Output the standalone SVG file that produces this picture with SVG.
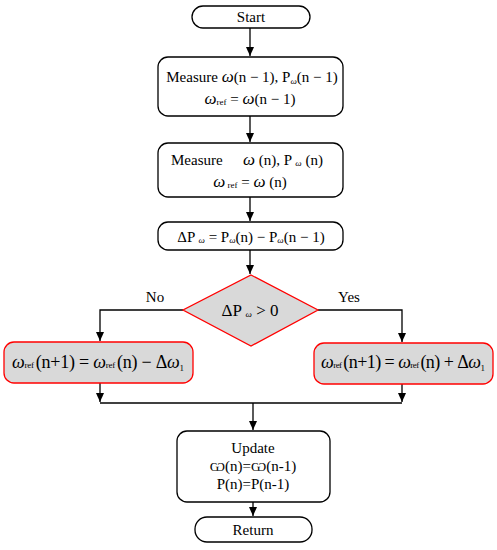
<svg xmlns="http://www.w3.org/2000/svg" width="497" height="550" viewBox="0 0 497 550">
<defs>
<marker id="ah" markerWidth="10" markerHeight="10" refX="9" refY="5" orient="auto" markerUnits="userSpaceOnUse">
<path d="M0,1 L9,5 L0,9 Z" fill="#000"/>
</marker>
<style>
.box{fill:#fff;stroke:#000;stroke-width:1.3}
.dec{fill:#d9d9d9;stroke:#ff0000;stroke-width:1.3}
.ln{fill:none;stroke:#000;stroke-width:1.3}
text{font-family:"Liberation Serif","Times New Roman",serif;fill:#000}
.t{font-size:15px}
.i{font-style:italic}
.s{font-size:9px}
.om{font-family:"DejaVu Serif","Liberation Serif",serif;font-size:13px}
</style>
</defs>
<rect width="497" height="550" fill="#fff"/>
<g id="connectors">
<path class="ln" d="M250,28 V56" marker-end="url(#ah)"/>
<path class="ln" d="M250,116 V142" marker-end="url(#ah)"/>
<path class="ln" d="M250,197 V221" marker-end="url(#ah)"/>
<path class="ln" d="M250,250 V274" marker-end="url(#ah)"/>
<path class="ln" d="M183,310 H100 V341" marker-end="url(#ah)"/>
<path class="ln" d="M318,310 H402 V342" marker-end="url(#ah)"/>
<path class="ln" d="M100,383 V402" marker-end="url(#ah)"/>
<path class="ln" d="M402,384 V402" marker-end="url(#ah)"/>
<path class="ln" d="M100,403 H402"/>
<path class="ln" d="M253,403 V430" marker-end="url(#ah)"/>
<path class="ln" d="M253,502 V516" marker-end="url(#ah)"/>
<text class="t" x="155" y="302" text-anchor="middle">No</text>
<text class="t" x="349" y="302" text-anchor="middle">Yes</text>
</g>
<g id="start">
<rect class="box" x="192" y="6" width="118" height="22" rx="11"/>
<text class="t" x="251" y="22" text-anchor="middle">Start</text>
</g>
<g id="measure1">
<rect class="box" x="158" y="57" width="185" height="59" rx="10"/>
<text class="t" x="252" y="82" text-anchor="middle">Measure <tspan class="i" font-size="17">ω</tspan>(n − 1), P<tspan class="i s" dy="2">ω</tspan><tspan dy="-2">(n − 1)</tspan></text>
<text class="t" x="250" y="104" text-anchor="middle"><tspan class="i" font-size="17">ω</tspan><tspan class="s" dy="1">ref</tspan><tspan dy="-1"> = </tspan><tspan class="i" font-size="17">ω</tspan>(n − 1)</text>
</g>
<g id="measure2">
<rect class="box" x="158" y="143" width="185" height="54" rx="10"/>
<text class="t" x="171" y="165">Measure</text>
<text class="t" x="243" y="165"><tspan class="i" font-size="17">ω</tspan> (n),   P <tspan class="i s" dy="1">ω</tspan><tspan dy="-1"> (n)</tspan></text>
<text class="t" x="250" y="187" text-anchor="middle"><tspan class="i" font-size="17">ω</tspan><tspan class="s" dy="1"> ref</tspan><tspan dy="-1">  =  </tspan><tspan class="i" font-size="17">ω</tspan> (n)</text>
</g>
<g id="delta">
<rect class="box" x="158" y="222" width="185" height="28" rx="10"/>
<text class="t" x="251" y="242" text-anchor="middle">ΔP <tspan class="i s" dy="1">ω</tspan><tspan dy="-1"> = P</tspan><tspan class="i s" dy="1">ω</tspan><tspan dy="-1">(n) − P</tspan><tspan class="i s" dy="1">ω</tspan><tspan dy="-1">(n − 1)</tspan></text>
</g>
<g id="decision">
<polygon class="dec" points="251,275 318,310 251,346 183,310"/>
<text x="250" y="316" text-anchor="middle" font-size="17">ΔP <tspan class="i s" dy="1">ω</tspan><tspan dy="-1"> &gt; 0</tspan></text>
</g>
<g id="decrease">
<rect class="dec" x="4" y="342" width="189" height="41" rx="10"/>
<text x="12" y="368" font-size="18" textLength="172" lengthAdjust="spacing"><tspan class="i">ω</tspan><tspan class="s">ref </tspan>(n+1) = <tspan class="i">ω</tspan><tspan class="s">ref </tspan>(n) − Δ<tspan class="i">ω</tspan><tspan class="s" dy="3">1</tspan></text>
</g>
<g id="increase">
<rect class="dec" x="314" y="343" width="179" height="41" rx="10"/>
<text x="321" y="368" font-size="18" textLength="164" lengthAdjust="spacing"><tspan class="i">ω</tspan><tspan class="s">ref </tspan>(n+1) = <tspan class="i">ω</tspan><tspan class="s">ref </tspan>(n) + Δ<tspan class="i">ω</tspan><tspan class="s" dy="3">1</tspan></text>
</g>
<g id="update">
<rect class="box" x="177" y="431" width="153" height="71" rx="10"/>
<text class="t" x="253" y="453" text-anchor="middle">Update</text>
<text class="t" x="253" y="471" text-anchor="middle"><tspan class="om">Ѡ</tspan>(n)=<tspan class="om">Ѡ</tspan>(n-1)</text>
<text class="t" x="253" y="489" text-anchor="middle">P(n)=P(n-1)</text>
</g>
<g id="return">
<rect class="box" x="195" y="517" width="117" height="25" rx="12"/>
<text class="t" x="253" y="535" text-anchor="middle">Return</text>
</g>
</svg>
